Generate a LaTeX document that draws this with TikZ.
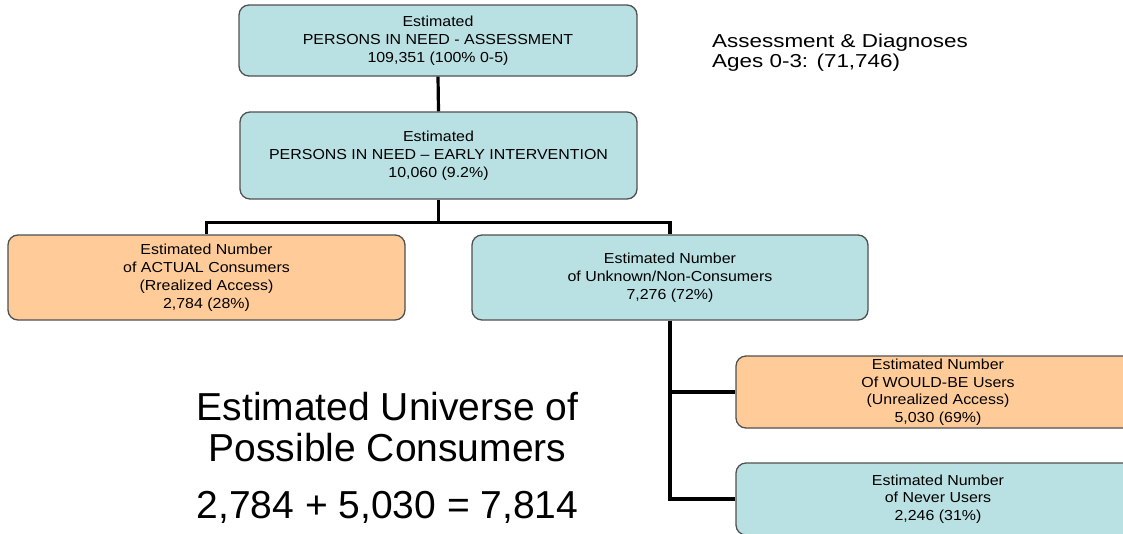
\documentclass[tikz,border=0pt]{standalone}
\usepackage{fontspec}
\setmainfont{Liberation Sans}
\newfontfamily\boxfont[FakeStretch=1.1]{Liberation Sans}
\newfontfamily\sidefont[FakeStretch=1.2]{Liberation Sans}
\definecolor{boxblue}{RGB}{185,224,226}
\definecolor{boxorange}{RGB}{255,204,153}
\definecolor{boxline}{RGB}{80,80,80}
\tikzset{
  blk/.style={draw=boxline, line width=1.3pt, rounded corners=10pt, align=center,
    font=\boxfont\fontsize{14.5}{18}\selectfont, inner sep=0pt},
  bluebox/.style={blk, fill=boxblue},
  orangebox/.style={blk, fill=boxorange},
  conn/.style={line width=3.2pt, black}
}
\begin{document}
\begin{tikzpicture}[x=1pt,y=-1pt]
\useasboundingbox (0,0) rectangle (1123,533);
\clip (0,0) rectangle (1123,533);

\node[bluebox, minimum width=398pt, minimum height=71pt] (top) at (438,40.5)
  {Estimated\\PERSONS IN NEED - ASSESSMENT\\109,351 (100\% 0-5)};
\node[bluebox, minimum width=397pt, minimum height=87pt] (ei) at (438.5,155.5)
  {Estimated\\PERSONS IN NEED \textendash\ EARLY INTERVENTION\\10,060 (9.2\%)};
\node[orangebox, minimum width=397pt, minimum height=85pt] (actual) at (206.5,277.5)
  {Estimated Number\\of ACTUAL Consumers\\(Rrealized Access)\\2,784 (28\%)};
\node[bluebox, minimum width=396pt, minimum height=85pt] (unknown) at (670,277.5)
  {Estimated Number\\of Unknown/Non-Consumers\\7,276 (72\%)};
\node[orangebox, minimum width=404pt, minimum height=72pt, font=\boxfont\fontsize{14.5}{17.5}\selectfont] (would) at (938,392)
  {Estimated Number\\Of WOULD-BE Users\\(Unrealized Access)\\5,030 (69\%)};
\node[bluebox, minimum width=404pt, minimum height=72pt, font=\boxfont\fontsize{14.5}{17.5}\selectfont] (never) at (938,499)
  {Estimated Number\\of Never Users\\2,246 (31\%)};

\node[anchor=west, align=left, inner sep=0pt, font=\sidefont\fontsize{18.7}{20.5}\selectfont] (side) at (712,52.5)
  {Assessment \& Diagnoses\\Ages 0-3: (71,746)};

\node[align=center, inner sep=0pt, font=\fontsize{39}{41}\selectfont] (univ) at (387.5,427)
  {Estimated Universe of\\Possible Consumers};
\node[anchor=base, inner sep=0pt, font=\fontsize{39}{40}\selectfont] (sum) at (387.5,518)
  {2,784 + 5,030 = 7,814};

\draw[conn] (top.south) -- (ei.north);
\draw[conn] (ei.south) -- ++(0,23) coordinate (split) -| (actual.north);
\draw[conn] (split) -| (unknown.north);
\draw[conn] (unknown.south) |- (would.west);
\draw[conn] (unknown.south) |- (never.west);
\end{tikzpicture}
\end{document}
